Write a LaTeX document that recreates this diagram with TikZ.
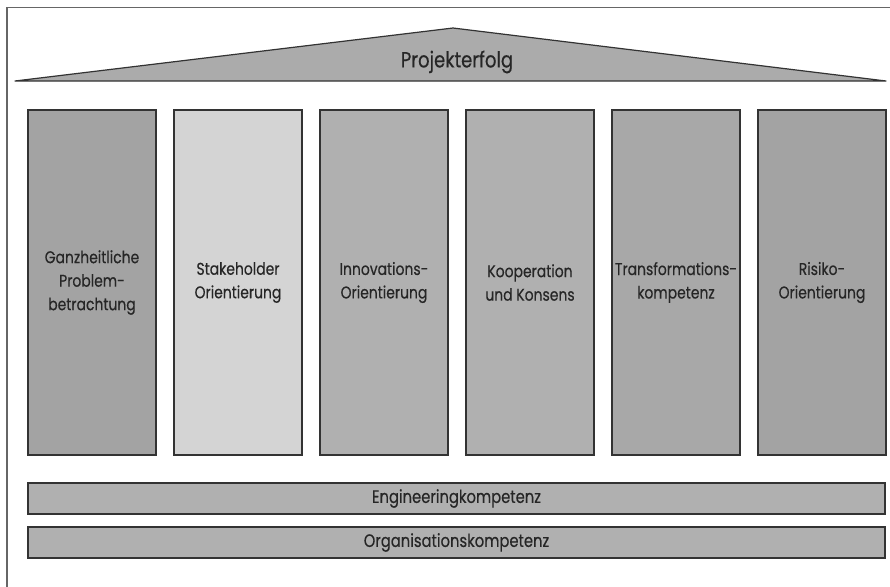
\documentclass[tikz,border=0pt]{standalone}
\usepackage{fontspec}
\setmainfont{Poppins}[FakeStretch=0.82, FakeBold=0.4]
\tikzset{
  pillar/.style={draw=black!80, line width=1.2pt, minimum width=128pt, minimum height=345pt,
    align=center, text=black!85, font=\fontsize{17}{23.5}\selectfont, inner sep=1pt},
  base/.style={draw=black!80, line width=1.2pt, minimum width=857pt, minimum height=31pt,
    fill=black!31, text=black!85, font=\fontsize{18}{20}\selectfont}
}
\begin{document}
\begin{tikzpicture}[x=1pt, y=-1pt]
      \useasboundingbox (0,0) rectangle (890,586);
      % Rahmen
      \draw[black!60, line width=1.8pt] (7,590) -- (7,7.5) -- (895,7.5);
      % Dach
      \coordinate (l) at (15,81);
      \coordinate (top) at (453,28);
      \coordinate (r) at (886,81);
      \filldraw[fill=black!33, draw=black!80, line width=1.2pt, line join=round] (l) -- (top) -- (r) -- cycle;
      \node[text=black!85, font=\fontsize{22}{24}\selectfont] (dach) at (457,62) {Projekterfolg};
      % Saeulen
      \node[pillar, fill=black!36] (ganz) at (92,282.5) {Ganzheitliche\\Problem-\\betrachtung};
      \node[pillar, fill=black!17] (stake) at (238,282.5) {Stakeholder\\Orientierung};
      \node[pillar, fill=black!31] (innov) at (384,282.5) {Innovations-\\Orientierung};
      \node[pillar, fill=black!31] (koop) at (530,282.5) {Kooperation\\und Konsens};
      \node[pillar, fill=black!34] (trans) at (676,282.5) {Transformations-\\kompetenz};
      \node[pillar, fill=black!36] (risiko) at (822,282.5) {Risiko-\\Orientierung};
      % Fundament
      \node[base] (eng) at (456.5,498.5) {Engineeringkompetenz};
      \node[base] (org) at (456.5,542.5) {Organisationskompetenz};
    \end{tikzpicture}
\end{document}
